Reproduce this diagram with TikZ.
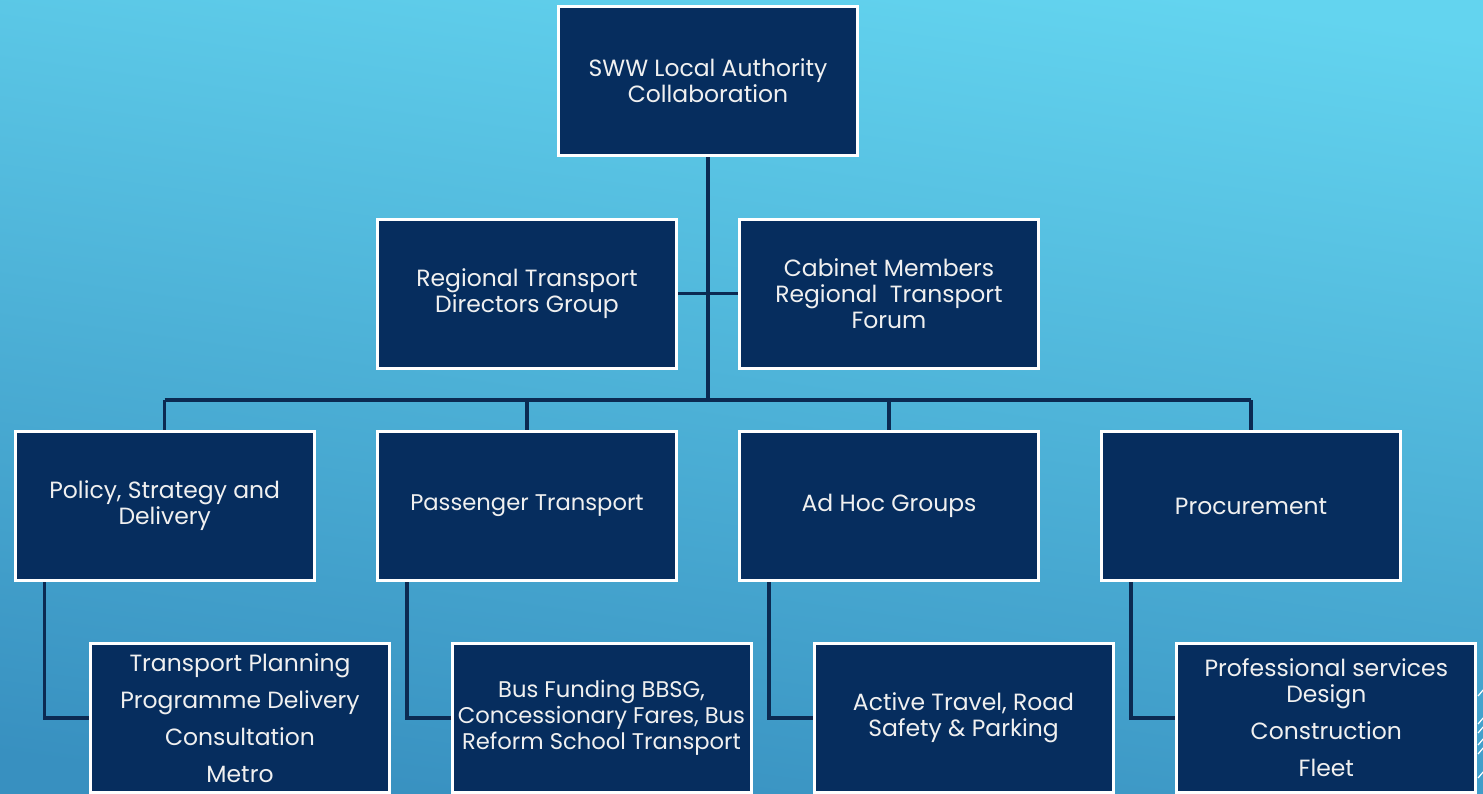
\documentclass[tikz,border=0pt]{standalone}
\usepackage{fontspec}
\setmainfont{Poppins}
\usetikzlibrary{calc}
\definecolor{bgtop}{HTML}{63D4EF}
\definecolor{bgbot}{HTML}{3890C0}
\definecolor{boxfill}{HTML}{062D5E}
\definecolor{conn}{HTML}{0B2A52}
\pgfdeclarelayer{bg}
\pgfsetlayers{bg,main}
\tikzset{
  orgbox/.style={draw=white, line width=2.25pt, fill=boxfill, text=white!94!black,
    minimum width=224.25pt, minimum height=111.75pt, inner sep=0pt,
    align=center, font=\fontsize{17.6pt}{19.5pt}\selectfont},
  link/.style={draw=conn, line width=2.6pt},
  deco/.style={draw=white, line width=0.9pt}
}
\begin{document}
\begin{tikzpicture}[x=0.75pt,y=-0.75pt]
\useasboundingbox (0,0) rectangle (1483,793);
\node[orgbox] (top) at (708,81) {SWW Local Authority\\Collaboration};
\node[orgbox] (rtd) at (527,293.7) {Regional Transport\\Directors Group};
\node[orgbox] (cab) at (889,293.7) {Cabinet Members\\Regional\ \ Transport\\Forum};
\node[orgbox] (p1) at (164.7,506) {Policy, Strategy and\\Delivery};
\node[orgbox, font=\fontsize{17pt}{19.5pt}\selectfont] (p2) at (527,506) {Passenger Transport};
\node[orgbox] (p3) at (889,506) {Ad Hoc Groups};
\node[orgbox] (p4) at (1251,506) {Procurement};
\node[orgbox] (c1) at (240,718) {Transport Planning\\[8.25pt]Programme Delivery\\[8.25pt]Consultation\\[8.25pt]Metro};
\node[orgbox, font=\fontsize{17pt}{19.5pt}\selectfont] (c2) at (601.5,718) {Bus Funding BBSG,\\Concessionary Fares, Bus\\Reform School Transport};
\node[orgbox] (c3) at (963.5,718) {Active Travel, Road\\Safety \& Parking};
\node[orgbox] (c4) at (1326.3,718) {Professional services\\Design\\[8.25pt]Construction\\[8.25pt]Fleet};
\coordinate (bar) at (708,400);
\begin{pgfonlayer}{bg}
\shade[top color=bgtop, bottom color=bgbot, shading angle=-8] (-20,-20) rectangle (1503,813);
\draw[link] (top.south) -- (top.south |- bar);
\draw[link] (rtd.east) -- (cab.west);
\draw[link] (p1.north |- bar) -- (p4.north |- bar);
\foreach \p in {p1,p2,p3,p4} \draw[link] (\p.north |- bar) -- (\p.north);
\draw[link] ([xshift=31*0.75pt]p1.south west) |- (c1.west);
\draw[link] ([xshift=31*0.75pt]p2.south west) |- (c2.west);
\draw[link] ([xshift=31*0.75pt]p3.south west) |- (c3.west);
\draw[link] ([xshift=31*0.75pt]p4.south west) |- (c4.west);
\end{pgfonlayer}
\foreach \yy in {692,720,729,741,750,774} \draw[deco] (1478,\yy+4) -- (1484,\yy-3);
\end{tikzpicture}
\end{document}
